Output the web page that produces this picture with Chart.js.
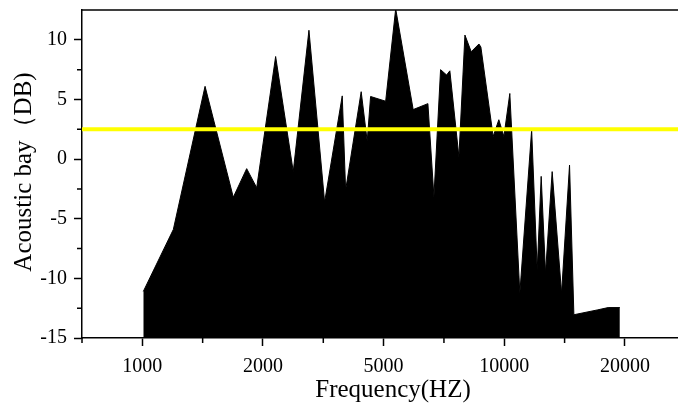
<!DOCTYPE html>
<html lang="en">
<head>
    <meta charset="UTF-8">
    <title>Acoustic bay spectrum</title>
    <style>
        body {
            margin: 0;
            background: #fff;
        }
        .chart-box {
            position: relative;
            width: 678px;
            height: 405px;
        }
    </style>
</head>
<body>

<div class="chart-box">
    <canvas id="specChart"></canvas>
</div>

<script src="https://cdn.jsdelivr.net/npm/chart.js@4.4.0/dist/chart.umd.min.js"></script>
<script>
    // x axis ticks are evenly spaced, so positions are in tick-index units (1 = 1000 Hz ... 5 = 20000 Hz)
    const xTickLabels = ['1000', '2000', '5000', '10000', '20000'];

    const freqPos = [
        1.008, 1.257, 1.520, 1.754, 1.865, 1.948, 2.105, 2.251, 2.381, 2.511,
        2.657, 2.685, 2.814, 2.864, 2.892, 3.017, 3.100, 3.245, 3.367, 3.417,
        3.472, 3.522, 3.549, 3.624, 3.674, 3.726, 3.790, 3.806, 3.908, 3.955,
        3.997, 4.046, 4.129, 4.227, 4.273, 4.306, 4.342, 4.397, 4.475, 4.541,
        4.577, 4.770, 4.861, 4.958
    ];
    const levelDb = [
        -11.1, -5.9, 6.1, -3.2, -0.8, -2.4, 8.6, -1.05, 10.8, -3.6,
        5.3, -2.6, 5.65, 1.5, 5.25, 4.85, 12.6, 4.15, 4.65, -3.15,
        7.5, 7.05, 7.4, 0.2, 10.4, 9.0, 9.65, 9.4, 1.9, 3.3,
        1.9, 5.5, -11.25, 2.45, -9.3, -1.45, -9.55, -1.05, -11.25, -0.5,
        -13.05, -12.65, -12.45, -12.45
    ];

    const thresholdDb = 2.5;

    const xTitle = 'Frequency(HZ)';
    const yTitle = 'Acoustic bay（DB)';

    const xMin = 0.5, xMax = 5.44;
    const yMin = -15, yMax = 12.5;

    const serif = "'Liberation Serif', 'Times New Roman', serif";

    // short minor ticks, top frame line and axis titles
    const extras = {
        id: 'extras',
        afterDraw(chart) {
            const c = chart.ctx;
            const area = chart.chartArea;
            const xs = chart.scales.x, ys = chart.scales.y;
            c.save();
            c.strokeStyle = '#000';
            c.lineWidth = 1.5;
            c.beginPath();
            c.moveTo(area.left, area.top);
            c.lineTo(area.right, area.top);
            for (let v = -12.5; v < yMax; v += 5) {
                const py = ys.getPixelForValue(v);
                c.moveTo(area.left, py);
                c.lineTo(area.left - 5, py);
            }
            for (let v = 0.5; v < xMax; v += 1) {
                const px = xs.getPixelForValue(v);
                c.moveTo(px, area.bottom);
                c.lineTo(px, area.bottom + 5);
            }
            c.stroke();

            c.fillStyle = '#000';
            c.font = '25px ' + serif;
            c.textAlign = 'center';
            c.textBaseline = 'alphabetic';
            c.fillText(xTitle, 393, 397);
            c.translate(31, 172);
            c.rotate(-Math.PI / 2);
            c.fillText(yTitle, 0, 0);
            c.restore();
        }
    };

    const ctx = document.getElementById('specChart').getContext('2d');
    const specChart = new Chart(ctx, {
        type: 'line',
        data: {
            datasets: [
                {
                    data: [{x: xMin, y: thresholdDb}, {x: xMax, y: thresholdDb}],
                    borderColor: '#ffff00',
                    borderWidth: 4,
                    pointRadius: 0,
                    fill: false,
                    order: 0
                },
                {
                    data: freqPos.map((x, i) => ({x: x, y: levelDb[i]})),
                    borderColor: '#000',
                    backgroundColor: '#000',
                    borderWidth: 1,
                    pointRadius: 0,
                    tension: 0,
                    fill: 'start',
                    order: 1
                }
            ]
        },
        options: {
            responsive: true,
            maintainAspectRatio: false,
            animation: false,
            layout: {
                padding: {top: 10, left: 0, right: 0, bottom: 0}
            },
            plugins: {
                legend: {display: false},
                tooltip: {enabled: false}
            },
            scales: {
                x: {
                    type: 'linear',
                    min: xMin,
                    max: xMax,
                    afterFit: s => { s.height = 67; s.paddingLeft = 0; s.paddingRight = 0; },
                    border: {color: '#000', width: 1.5},
                    grid: {
                        drawOnChartArea: false,
                        tickLength: 8,
                        tickColor: '#000',
                        tickWidth: 1.5
                    },
                    ticks: {
                        stepSize: 1,
                        includeBounds: false,
                        autoSkip: false,
                        maxRotation: 0,
                        padding: 9,
                        color: '#000',
                        font: {family: serif, size: 20},
                        callback: v => xTickLabels[v - 1] || ''
                    }
                },
                y: {
                    min: yMin,
                    max: yMax,
                    afterFit: s => { s.width = 82; s.paddingTop = 0; s.paddingBottom = 0; },
                    border: {color: '#000', width: 1.5},
                    grid: {
                        drawOnChartArea: false,
                        tickLength: 8,
                        tickColor: '#000',
                        tickWidth: 1.5
                    },
                    ticks: {
                        stepSize: 5,
                        includeBounds: false,
                        padding: 7,
                        color: '#000',
                        font: {family: serif, size: 20}
                    }
                }
            }
        },
        plugins: [extras]
    });
</script>

</body>
</html>
